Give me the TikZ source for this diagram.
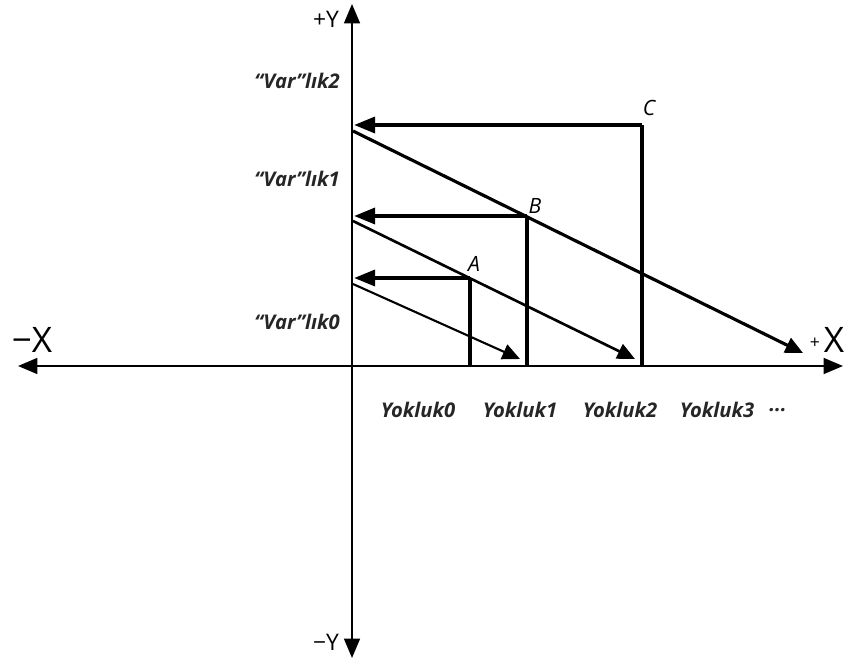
\documentclass[tikz,border=0pt]{standalone}
\usepackage{fontspec}
\setmainfont{Open Sans}
\usetikzlibrary{arrows.meta}
\tikzset{
  axis/.style={line width=1.1pt, {Triangle[length=11pt,width=9pt]}-{Triangle[length=11pt,width=9pt]}},
  proj/.style={line width=2.3pt, -{Triangle[length=12pt,width=9pt]}},
  drop/.style={line width=2.3pt},
  slide/.style={-{Triangle[length=10pt,width=9pt]}},
  lbl/.style={font=\bfseries\itshape\fontsize{11.5}{14}\selectfont, text=black!85},
  pt/.style={font=\itshape\fontsize{12}{14}\selectfont},
  axlbl/.style={font=\fontsize{13}{15}\selectfont}
}
\begin{document}
\begin{tikzpicture}[x=0.02cm,y=-0.02cm]
  \useasboundingbox (0,0) rectangle (845,662);

  \coordinate (ytop) at (352,4);
  \coordinate (ybot) at (352,658);
  \coordinate (xleft) at (18,366);
  \coordinate (xright) at (843,366);
  \draw[axis] (ybot) -- (ytop);
  \draw[axis] (xleft) -- (xright);

  \coordinate (A) at (470,278);
  \coordinate (B) at (527,216);
  \coordinate (C) at (642,125);
  \coordinate (A0) at (470,366);
  \coordinate (B0) at (527,366);
  \coordinate (C0) at (642,366);
  \coordinate (Ay) at (354,278);
  \coordinate (By) at (354,216);
  \coordinate (Cy) at (354,125);
  \coordinate (As) at (353,284);
  \coordinate (Bs) at (353,221);
  \coordinate (Cs) at (353,131);
  \coordinate (Ae) at (520,359);
  \coordinate (Be) at (635,359);
  \coordinate (Ce) at (803,353);

  \draw[drop] (A0) -- (A);
  \draw[drop] (B0) -- (B);
  \draw[drop] (C0) -- (C);
  \draw[proj] (A) -- (Ay);
  \draw[proj] (B) -- (By);
  \draw[proj] (C) -- (Cy);
  \draw[slide, line width=1.2pt] (As) -- (Ae);
  \draw[slide, line width=1.5pt] (Bs) -- (Be);
  \draw[slide, line width=1.8pt] (Cs) -- (Ce);

  \node[pt] (lA) at (474,264) {A};
  \node[pt] (lB) at (535,206) {B};
  \node[pt] (lC) at (649,108) {C};

  \node[lbl] (var2) at (297,81) {“Var”lık2};
  \node[lbl] (var1) at (297,179) {“Var”lık1};
  \node[lbl] (var0) at (297,322) {“Var”lık0};

  \node[lbl] (yok0) at (418,410) {Yokluk0};
  \node[lbl] (yok1) at (520,410) {Yokluk1};
  \node[lbl] (yok2) at (620,410) {Yokluk2};
  \node[lbl] (yok3) at (717,410) {Yokluk3};
  \node[lbl] (dots) at (778,410) {...};

  \node[axlbl] (py) at (326,19) {+Y};
  \node[axlbl] (my) at (326,642) {−Y};
  \node[font=\fontsize{20}{22}\selectfont] (mx) at (32,340) {−X};
  \node[font=\fontsize{10}{12}\selectfont] (pxs) at (815,343) {+};
  \node[font=\fontsize{20}{22}\selectfont] (px) at (834,340) {X};
\end{tikzpicture}
\end{document}
